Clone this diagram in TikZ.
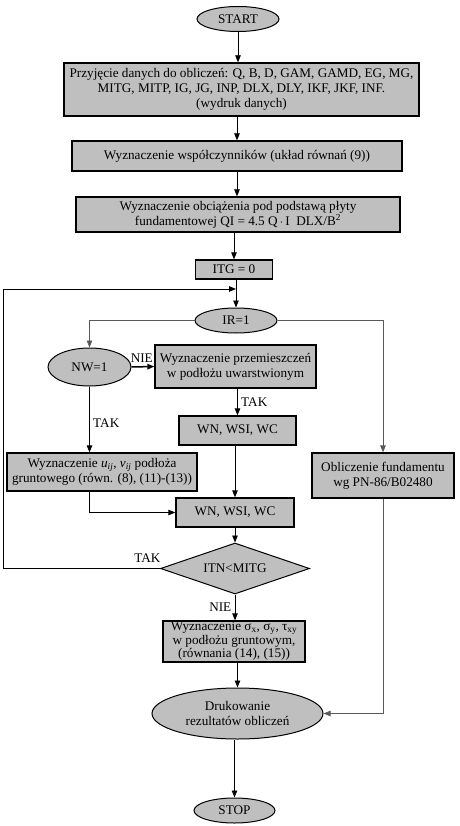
\documentclass[tikz,border=0pt]{standalone}
\usepackage{fontspec}
\setmainfont{Liberation Serif}
\usetikzlibrary{
    arrows.meta,
    shapes.geometric,
    positioning
}

\begin{document}
\begin{tikzpicture} [
    x=1pt, y=-1pt,
    font=\fontsize{13.2}{15}\selectfont,
    box/.style = {draw, fill=boxgray, line width=1.3pt, inner sep=0pt, align=center},
    term/.style = {ellipse, draw, fill=boxgray, line width=1pt, inner sep=0pt, align=center},
    decide/.style = {diamond, draw, fill=boxgray, line width=1pt, inner sep=0pt, aspect=3},
    arr/.style = {-{Triangle[length=7pt,width=5.5pt]}, line width=0.8pt},
    gline/.style = {draw=black!65}
]
    \colorlet{boxgray}{black!25}
    \useasboundingbox (0,0) rectangle (459,826);

    \node[term, minimum width=82, minimum height=25] (start) at (238,19) {START};
    \node[box, minimum width=355, minimum height=53] (dane) at (241.5,89.5)
        {Przyjęcie danych do obliczeń: Q, B, D, GAM, GAMD, EG, MG,\\
         MITG, MITP, IG, JG, INP, DLX, DLY, IKF, JKF, INF.\\ (wydruk danych)};
    \node[box, minimum width=330, minimum height=30] (wsp) at (237,156)
        {Wyznaczenie współczynników (układ równań (9))};
    \node[box, minimum width=324, minimum height=35] (obc) at (238,214.5)
        {Wyznaczenie obciążenia pod podstawą płyty\\
         fundamentowej QI = 4.5 Q\,$\cdot$\,I\ \ DLX/B\textsuperscript{2}};
    \node[box, minimum width=77, minimum height=19] (itg) at (234,269.5) {ITG = 0};

    \node[term, minimum width=82, minimum height=25] (ir) at (236,320.5) {IR=1};
    \node[term, minimum width=83, minimum height=38] (nw) at (89.5,367) {NW=1};
    \node[box, minimum width=161, minimum height=43] (prz) at (235.5,366.5)
        {Wyznaczenie przemieszczeń\\ w podłożu uwarstwionym};
    \node[box, minimum width=117, minimum height=29] (wn1) at (237.5,430.5) {WN, WSI, WC};
    \node[box, minimum width=190, minimum height=38] (uij) at (102,472)
        {Wyznaczenie \textit{u}\textsubscript{\textit{ij}}, \textit{v}\textsubscript{\textit{ij}} podłoża\\
         gruntowego (równ. (8), (11)-(13))};
    \node[box, minimum width=118, minimum height=29] (wn2) at (235,512.5) {WN, WSI, WC};
    \node[box, minimum width=142, minimum height=45] (obl) at (383,475.5)
        {Obliczenie fundamentu\\ wg PN-86/B02480};

    \node[decide, minimum width=149, minimum height=51] (itn) at (235,568.5) {ITN<MITG};
    \node[box, minimum width=142, minimum height=41, font=\fontsize{13.2}{13.5}\selectfont] (sig) at (234,641.5)
        {Wyznaczenie σ\textsubscript{x}, σ\textsubscript{y}, τ\textsubscript{xy}\\
         w podłożu gruntowym,\\ (równania (14), (15))};
    \node[term, minimum width=171, minimum height=51] (druk) at (237.5,713.5)
        {Drukowanie\\ rezultatów obliczeń};
    \node[term, minimum width=81, minimum height=25] (stop) at (234.5,810.5) {STOP};

    \coordinate (join) at (236,289);
    \coordinate (lft) at (3,289);

    \draw[arr] (start.south) -- (start.south |- dane.north);
    \draw[arr] (dane.south -| wsp) -- (wsp.north);
    \draw[arr] (wsp.south) -- (wsp.south |- obc.north);
    \draw[arr] (obc.south -| itg) -- (itg.north);
    \draw[arr] (itg.south -| ir) -- (ir.north);
    \draw[arr] (itn.west) -| (lft) -- (join);

    \draw[arr, gline] (ir.west) -| (nw.north);
    \draw[arr, gline] (ir.east) -| (obl.north);

    \draw[arr, line width=1.5pt] (nw.east) -- node[above, pos=0.45] (nie1) {NIE} (prz.west);
    \draw[arr] (prz.south -| wn1) -- node[right] (tak1) {TAK} (wn1.north);
    \draw[arr] (nw.south) -- node[right, pos=0.55] (tak2) {TAK} (nw.south |- uij.north);
    \draw[arr] (nw.south |- uij.south) |- (wn2.west);
    \draw[arr] (wn1.south -| wn2) -- (wn2.north);
    \draw[arr] (wn2.south) -- (itn.north);
    \node[above left, xshift=4pt, yshift=2pt] (tak3) at (itn.west) {TAK};

    \draw[arr] (itn.south) -- node[left] (nie2) {NIE} (itn.south |- sig.north);
    \draw[arr] (sig.south -| druk) -- (druk.north);
    \draw[arr, gline] (obl.south) |- (druk.east);
    \draw[arr] (druk.south -| stop) -- (stop.north);
\end{tikzpicture}
\end{document}
